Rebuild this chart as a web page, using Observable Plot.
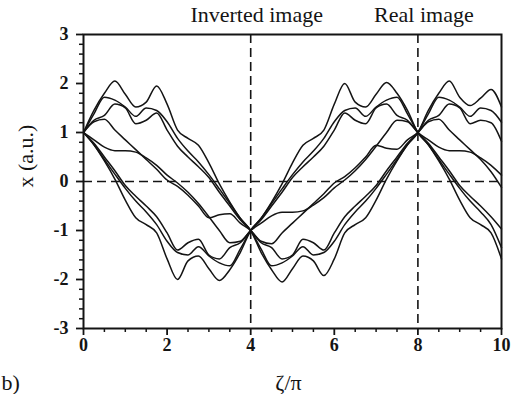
<!DOCTYPE html>
<html><head><meta charset="utf-8">
<script src="https://cdn.jsdelivr.net/npm/d3@7"></script>
<script src="https://cdn.jsdelivr.net/npm/@observablehq/plot@0.6"></script>
<style>body{margin:0;background:#fff} svg{display:block}</style>
</head><body><div id="chart"></div><script>
// ζ/π sample positions
const zeta = [0, 0.25, 0.5, 0.75, 1, 1.25, 1.5, 1.75, 2, 2.25, 2.5, 2.75, 3, 3.25, 3.5, 3.75, 4, 4.25, 4.5, 4.75, 5, 5.25, 5.5, 5.75, 6, 6.25, 6.5, 6.75, 7, 7.25, 7.5, 7.75, 8, 8.25, 8.5, 8.75, 9, 9.25, 9.5, 9.75, 10];

// x (a.u.), one array per trajectory
const seriesA = [1.00, 1.45, 1.80, 2.05, 1.78, 1.52, 1.62, 1.95, 1.58, 1.05, 0.88, 0.74, 0.38, -0.05, -0.42, -0.75, -1.00, -1.45, -1.80, -2.05, -1.78, -1.52, -1.62, -1.92, -1.58, -1.05, -0.88, -0.74, -0.38, 0.05, 0.42, 0.75, 1.00, 1.45, 1.80, 2.05, 1.72, 1.55, 1.70, 1.88, 1.52];
const seriesB = [1.00, 1.38, 1.72, 1.66, 1.52, 1.33, 1.50, 1.45, 1.22, 0.88, 0.62, 0.40, 0.14, -0.15, -0.45, -0.75, -1.00, -1.38, -1.72, -1.66, -1.52, -1.33, -1.50, -1.45, -1.22, -0.88, -0.62, -0.40, -0.14, 0.15, 0.45, 0.75, 1.00, 1.38, 1.72, 1.66, 1.52, 1.33, 1.50, 1.45, 1.21];
const seriesC = [1.00, 1.25, 1.35, 1.58, 1.50, 1.18, 1.25, 1.40, 1.05, 0.72, 0.50, 0.30, 0.08, -0.22, -0.50, -0.78, -1.00, -1.25, -1.35, -1.58, -1.50, -1.18, -1.25, -1.40, -1.05, -0.72, -0.50, -0.30, -0.08, 0.22, 0.50, 0.78, 1.00, 1.25, 1.35, 1.58, 1.50, 1.18, 1.25, 1.20, 0.82];
const seriesD = [1.00, 1.22, 1.27, 1.05, 0.85, 0.65, 0.45, 0.25, 0.03, -0.10, -0.28, -0.50, -0.74, -0.68, -0.66, -0.85, -1.00, -1.22, -1.27, -1.05, -0.85, -0.65, -0.45, -0.25, -0.03, 0.10, 0.28, 0.50, 0.74, 0.68, 0.66, 0.85, 1.00, 1.22, 1.27, 1.05, 0.85, 0.65, 0.45, 0.20, -0.12];
const seriesE = [1.00, 0.85, 0.70, 0.63, 0.63, 0.60, 0.48, 0.33, 0.13, -0.03, -0.22, -0.45, -0.72, -1.00, -1.25, -1.22, -1.00, -0.85, -0.70, -0.63, -0.63, -0.60, -0.48, -0.33, -0.13, 0.03, 0.22, 0.45, 0.72, 1.00, 1.25, 1.22, 1.00, 0.85, 0.70, 0.63, 0.63, 0.60, 0.48, 0.33, 0.13];
const seriesF = [1.00, 0.75, 0.42, 0.05, -0.38, -0.74, -0.88, -1.05, -1.58, -2.00, -1.62, -1.52, -1.78, -2.02, -1.80, -1.45, -1.00, -0.75, -0.42, -0.05, 0.38, 0.74, 0.88, 1.05, 1.58, 2.00, 1.62, 1.52, 1.78, 2.02, 1.80, 1.45, 1.00, 0.75, 0.42, 0.05, -0.38, -0.74, -0.88, -1.05, -1.58];
const seriesG = [1.00, 0.75, 0.45, 0.15, -0.14, -0.40, -0.62, -0.88, -1.22, -1.45, -1.50, -1.33, -1.52, -1.66, -1.72, -1.38, -1.00, -0.75, -0.45, -0.15, 0.14, 0.40, 0.62, 0.88, 1.22, 1.45, 1.50, 1.33, 1.52, 1.66, 1.72, 1.38, 1.00, 0.75, 0.45, 0.15, -0.14, -0.40, -0.62, -0.88, -1.35];
const seriesH = [1.00, 0.78, 0.50, 0.22, -0.08, -0.30, -0.50, -0.72, -1.05, -1.40, -1.25, -1.18, -1.50, -1.58, -1.35, -1.25, -1.00, -0.78, -0.50, -0.22, 0.08, 0.30, 0.50, 0.72, 1.05, 1.40, 1.25, 1.18, 1.50, 1.58, 1.35, 1.25, 1.00, 0.78, 0.50, 0.22, -0.08, -0.30, -0.50, -0.72, -0.97];

// ticks and reference lines
const xTicks = [0, 2, 4, 6, 8, 10];
const xMinorTicks = [0.5, 1, 1.5, 2.5, 3, 3.5, 4.5, 5, 5.5, 6.5, 7, 7.5, 8.5, 9, 9.5];
const yTicks = [-3, -2, -1, 0, 1, 2, 3];
const yMinorTicks = [-2.8, -2.6, -2.4, -2.2, -1.8, -1.6, -1.4, -1.2, -0.8, -0.6, -0.4, -0.2, 0.2, 0.4, 0.6, 0.8, 1.2, 1.4, 1.6, 1.8, 2.2, 2.4, 2.6, 2.8];
const imageLines = [4, 8];
const zeroLine = [0];
const annotations = [{at: 4, label: "Inverted image"}, {at: 8, label: "Real image"}];

const seriesList = [["A", seriesA], ["B", seriesB], ["C", seriesC], ["D", seriesD], ["E", seriesE], ["F", seriesF], ["G", seriesG], ["H", seriesH]];
const rows = seriesList.flatMap(([name, vals]) => vals.map((v, i) => ({series: name, zeta: zeta[i], value: v})));

const ink = "#141414";
const chart = Plot.plot({
  width: 526, height: 394,
  marginLeft: 83, marginRight: 25, marginTop: 34, marginBottom: 66,
  style: {fontFamily: "'Liberation Serif', 'Times New Roman', serif", background: "#fff", color: ink},
  x: {domain: [0, 10], label: null},
  y: {domain: [-3, 3], label: null},
  marks: [
    Plot.ruleX(imageLines, {stroke: ink, strokeWidth: 1.6, strokeDasharray: "9,5"}),
    Plot.ruleY(zeroLine, {stroke: ink, strokeWidth: 1.6, strokeDasharray: "9,5"}),
    Plot.line(rows, {x: "zeta", y: "value", z: "series", stroke: ink, strokeWidth: 1.5, curve: "monotone-x"}),
    Plot.axisX(xMinorTicks, {tickSize: 4, text: null, strokeWidth: 1.5, label: null}),
    Plot.axisX(xTicks, {tickSize: 7, tickPadding: 3, fontSize: 18, fontWeight: "bold", tickFormat: d => String(d), strokeWidth: 1.8, label: null}),
    Plot.axisY(yMinorTicks, {tickSize: 4, text: null, strokeWidth: 1.5, label: null}),
    Plot.axisY(yTicks, {tickSize: 7, tickPadding: 8, fontSize: 18, fontWeight: "bold", tickFormat: d => String(d), strokeWidth: 1.8, label: null}),
    Plot.frame({stroke: ink, strokeWidth: 2}),
    Plot.text(annotations, {x: "at", text: "label", frameAnchor: "top", dx: 6, dy: -20, fontSize: 22, lineAnchor: "middle", fill: ink}),
    Plot.text(["x (a.u.)"], {frameAnchor: "left", rotate: -90, dx: -58, dy: 6, fontSize: 22, lineAnchor: "middle", fill: ink}),
    Plot.text(["ζ/π"], {frameAnchor: "bottom", dx: -4, dy: 54, fontSize: 22, lineAnchor: "middle", fill: ink}),
    Plot.text(["b)"], {frameAnchor: "bottom-left", textAnchor: "start", dx: -82, dy: 54, fontSize: 22, lineAnchor: "middle", fill: ink})
  ]
});
document.getElementById("chart").appendChild(chart);
</script></body></html>
